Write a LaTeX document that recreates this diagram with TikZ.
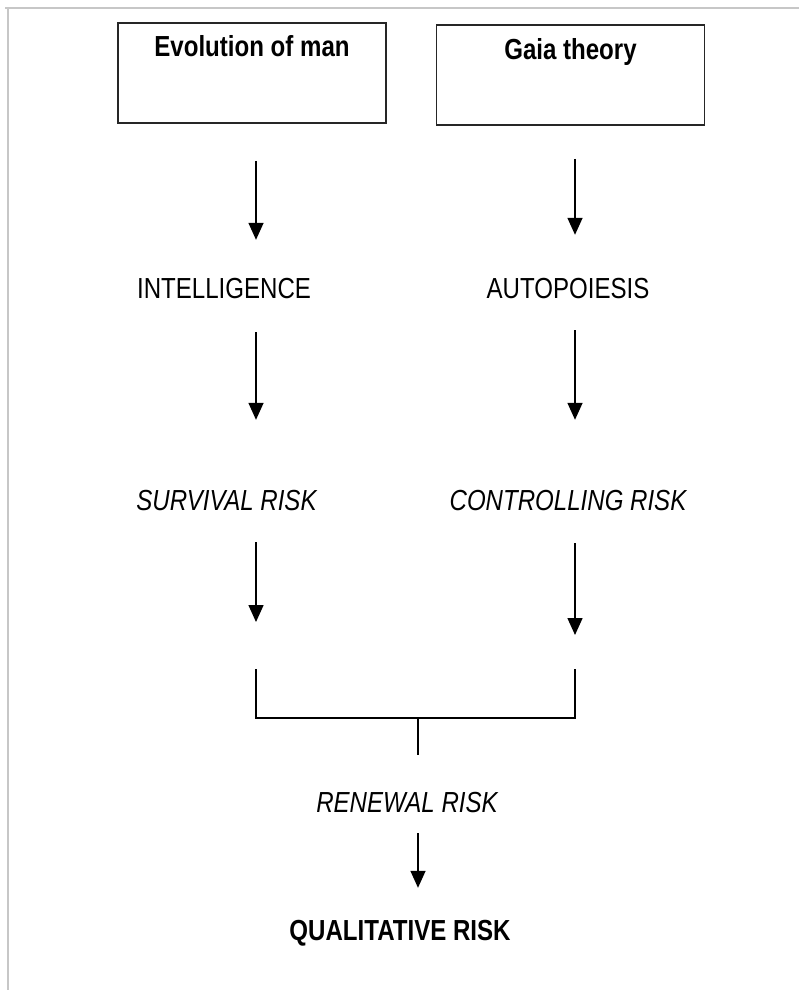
\documentclass[tikz,border=0pt]{standalone}
\usepackage{fontspec}
\setmainfont{Liberation Sans}[FakeStretch=0.83]
\usetikzlibrary{positioning,arrows.meta}

\tikzset{
	srcbox/.style={draw=black!85, line width=1.6pt, minimum width=268pt, minimum height=100pt, inner sep=0pt},
	boxtitle/.style={font=\fontsize{29}{33}\selectfont\bfseries, inner sep=0pt, text height=21pt, text depth=0pt},
	stage/.style={font=\fontsize{29}{33}\selectfont, inner sep=0pt, text height=21pt, text depth=0pt},
	riskstage/.style={stage, font=\fontsize{29}{33}\selectfont\itshape},
	flow/.style={-{Triangle[width=15pt,length=17pt]}, line width=1.5pt},
	joiner/.style={line width=2.6pt},
	frameline/.style={draw=black!22, line width=2pt},
}

\begin{document}
\begin{tikzpicture}[x=1pt, y=1pt, on grid]
		\useasboundingbox (0,0) rectangle (799,-990);
		\draw[frameline] (5,-8) -- (799,-8);
		\draw[frameline] (8,-8) -- (8,-990);

		\node[srcbox] (evo) at (252,-73) {};
		\node[srcbox, right=318.5pt of evo, yshift=-2pt] (gaia) {};
		\node[boxtitle, below=13.5pt of evo.north] (evotitle) {Evolution of man};
		\node[boxtitle, below=14.5pt of gaia.north] (gaiatitle) {Gaia theory};

		\coordinate (lx) at (256,0);
		\coordinate (rx) at (575,0);
		\coordinate (mx) at (418,0);

		\node[stage, below=215pt of evo, xshift=-28pt] (intel) {INTELLIGENCE};
		\node[stage, right=344pt of intel] (auto) {AUTOPOIESIS};
		\node[riskstage, below=212pt of intel, xshift=2.5pt] (surv) {SURVIVAL RISK};
		\node[riskstage, right=341.5pt of surv] (ctrl) {CONTROLLING RISK};
		\node[riskstage, below=302pt of surv, xshift=180.5pt] (renew) {RENEWAL RISK};
		\node[boxtitle, below=128pt of renew, xshift=-7pt] (qual) {QUALITATIVE RISK};

		% bracket joining both columns
		\coordinate (ltop) at (256,-669);
		\coordinate (rtop) at (575,-669);
		\coordinate (lcorner) at (256,-718);
		\coordinate (rcorner) at (575,-718);
		\coordinate (jmid) at (418,-718);

		\draw[flow, shorten <=37pt, shorten >=37.5pt] (evo.south -| lx) -- (intel.north -| lx);
		\draw[flow, shorten <=33.5pt, shorten >=69.5pt] (intel.south -| lx) -- (surv.north -| lx);
		\draw[flow, shorten <=31.5pt, shorten >=47pt] (surv.south -| lx) -- (ltop);

		\draw[flow, shorten <=33pt, shorten >=42.5pt] (gaia.south -| rx) -- (auto.north -| rx);
		\draw[flow, shorten <=31.5pt, shorten >=69.5pt] (auto.south -| rx) -- (ctrl.north -| rx);
		\draw[flow, shorten <=32.5pt, shorten >=34pt] (ctrl.south -| rx) -- (rtop);

		\draw[joiner] (ltop) -- (lcorner) -- (rcorner) -- (rtop);
		\draw[joiner, shorten >=36.5pt] (jmid) -- (renew.north -| jmid);
		\draw[flow, shorten <=20.5pt, shorten >=31.5pt] (renew.south -| mx) -- (qual.north -| mx);
	\end{tikzpicture}
\end{document}
